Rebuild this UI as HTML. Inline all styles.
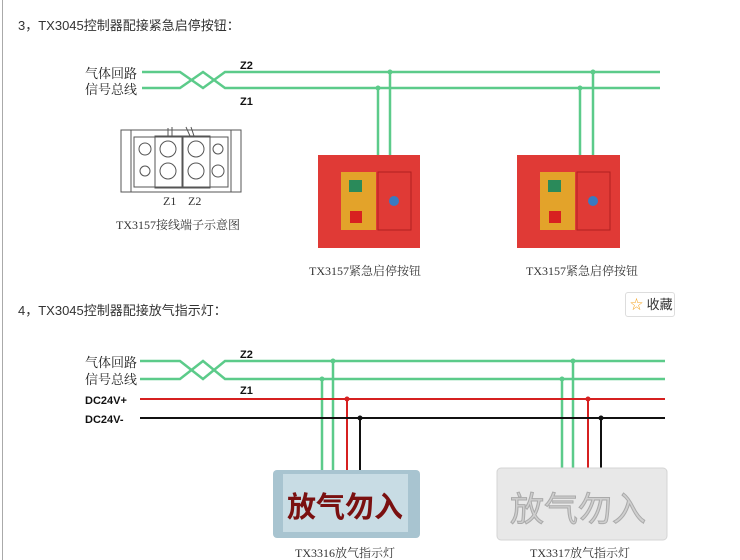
<!DOCTYPE html>
<html><head><meta charset="utf-8"><style>
body{margin:0;width:740px;height:560px;background:#fff;overflow:hidden;position:relative;font-family:"Liberation Sans","Noto Sans CJK SC",sans-serif}
.t{position:absolute;font-size:13px;color:#333}
.fav{position:absolute;left:625px;top:292px;width:50px;height:25px;border:1px solid #ddd;border-radius:3px;box-sizing:border-box;font-size:13px;color:#333;line-height:23px;padding-left:4px}
</style></head><body>
<div style="position:absolute;left:2px;top:0;width:1px;height:560px;background:#aaa"></div>
<div class="t" style="left:18px;top:15px">3，TX3045控制器配接紧急启停按钮：</div>
<div class="t" style="left:18px;top:300px">4，TX3045控制器配接放气指示灯：</div>
<div class="fav"><span style="color:#f5a623">☆</span> 收藏</div>
<svg width="740" height="560" style="position:absolute;left:0;top:0" font-family="Liberation Serif,Noto Serif CJK SC,serif">
<g stroke="#5ccb8a" stroke-width="2.5" fill="none">
<path d="M142 72H180L203 88L225 72H660"/><path d="M142 88H180L203 72L225 88H660"/>
<path d="M378 88V156M390 72V156M580 88V156M593 72V156"/>
<path d="M140 361H180L203 379L225 361H665"/><path d="M140 379H180L203 361L225 379H665"/>
<path d="M322 379V470M333 361V470M562 379V468M573 361V468"/>
</g>
<g fill="#5ccb8a"><circle cx="378" cy="88" r="2.5"/><circle cx="390" cy="72" r="2.5"/><circle cx="580" cy="88" r="2.5"/><circle cx="593" cy="72" r="2.5"/><circle cx="322" cy="379" r="2.5"/><circle cx="333" cy="361" r="2.5"/><circle cx="562" cy="379" r="2.5"/><circle cx="573" cy="361" r="2.5"/></g>
<g stroke="#d62020" stroke-width="2" fill="none"><path d="M140 399H665M347 399V470M588 399V468"/></g>
<g stroke="#111" stroke-width="2" fill="none"><path d="M140 418H665M360 418V470M601 418V468"/></g>
<circle cx="347" cy="399" r="2.5" fill="#d62020"/><circle cx="588" cy="399" r="2.5" fill="#d62020"/>
<circle cx="360" cy="418" r="2.5" fill="#111"/><circle cx="601" cy="418" r="2.5" fill="#111"/>
<g font-size="13" fill="#222"><text x="85" y="78">气体回路</text><text x="85" y="94">信号总线</text><text x="85" y="367">气体回路</text><text x="85" y="384">信号总线</text></g>
<g font-family="Liberation Sans,sans-serif" font-weight="bold" font-size="11" fill="#111"><text x="240" y="69">Z2</text><text x="240" y="105">Z1</text><text x="240" y="358">Z2</text><text x="240" y="394">Z1</text><text x="85" y="404">DC24V+</text><text x="85" y="423">DC24V-</text></g>
<g stroke="#555" fill="none" stroke-width="1">
<rect x="121" y="130" width="120" height="62"/><rect x="131" y="130" width="100" height="62"/>
<rect x="134" y="137" width="94" height="50"/>
<rect x="155" y="136" width="27" height="52"/><rect x="183" y="136" width="27" height="52"/>
<circle cx="168" cy="149" r="8"/><circle cx="196" cy="149" r="8"/><circle cx="168" cy="171" r="8"/><circle cx="196" cy="171" r="8"/>
<circle cx="145" cy="149" r="6"/><circle cx="145" cy="171" r="5"/><circle cx="218" cy="149" r="5"/><circle cx="218" cy="171" r="6"/>
<path d="M168 136V128M172 136V127M190 136L186 127M194 136L191 127"/>
</g>
<g font-size="12" fill="#333"><text x="163" y="205">Z1</text><text x="188" y="205">Z2</text>
<text x="178" y="229" text-anchor="middle">TX3157接线端子示意图</text>
<text x="365" y="275" text-anchor="middle">TX3157紧急启停按钮</text>
<text x="582" y="275" text-anchor="middle">TX3157紧急启停按钮</text>
<text x="345" y="557" text-anchor="middle">TX3316放气指示灯</text>
<text x="580" y="557" text-anchor="middle">TX3317放气指示灯</text></g>
<g>
<rect x="318" y="155" width="102" height="93" fill="#e03a36"/>
<rect x="341" y="172" width="35" height="58" fill="#e3a32a"/><rect x="349" y="180" width="13" height="12" fill="#2a8a5a"/><rect x="350" y="211" width="12" height="12" fill="#d82020"/>
<rect x="378" y="172" width="33" height="58" fill="none" stroke="#b02020"/><circle cx="394" cy="201" r="5" fill="#3a7ac0"/>
<rect x="517" y="155" width="103" height="93" fill="#e03a36"/>
<rect x="540" y="172" width="35" height="58" fill="#e3a32a"/><rect x="548" y="180" width="13" height="12" fill="#2a8a5a"/><rect x="549" y="211" width="12" height="12" fill="#d82020"/>
<rect x="577" y="172" width="33" height="58" fill="none" stroke="#b02020"/><circle cx="593" cy="201" r="5" fill="#3a7ac0"/>
</g>
<rect x="273" y="470" width="147" height="68" rx="4" fill="#a8c4d0"/>
<rect x="283" y="474" width="125" height="58" fill="#c8dce4"/>
<text x="345" y="517" text-anchor="middle" font-size="29" font-weight="bold" fill="#7a1010" font-family="Noto Sans CJK SC,sans-serif">放气勿入</text>
<rect x="497" y="468" width="170" height="72" rx="4" fill="#e8e8e8" stroke="#d4d4d4"/>
<text x="578" y="521" text-anchor="middle" font-size="34" fill="#cfcfcf" stroke="#aaa" stroke-width="1" font-family="Noto Sans CJK SC,sans-serif">放气勿入</text>
</svg>
</body></html>
